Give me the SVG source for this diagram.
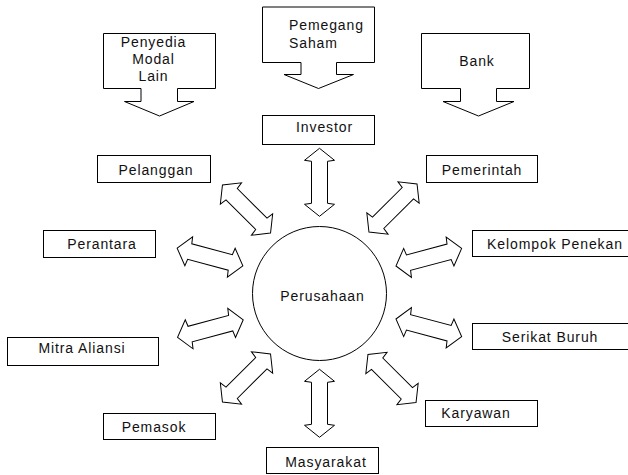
<svg xmlns="http://www.w3.org/2000/svg" xmlns:xlink="http://www.w3.org/1999/xlink" width="628" height="475" viewBox="0 0 628 475">
  <style>
    .shape { fill: #fff; stroke: #000; stroke-width: 1; stroke-linejoin: miter; }
    .lbl { font-family: "Liberation Sans", Arial, sans-serif; font-size: 14px; fill: #111; letter-spacing: 0.9px; }
    .mid { text-anchor: middle; }
  </style>
  <defs>
    <!-- double-headed hollow arrow, 68 px long, centred on the origin, pointing along x -->
    <path id="dbl" d="M34,0 L22,15 L21,8 L-21,8 L-22,15 L-34,0 L-22,-15 L-21,-8 L21,-8 L22,-15 Z"/>
  </defs>

  <rect width="628" height="475" fill="#fff"/>

  <!-- capital sources feeding the investor -->
  <g id="penyedia-modal-lain">
    <path class="shape" d="M103.5,33.5 H215.5 V88.5 H177.5 V101.5 H194 L159.5,116 L124.5,101.5 H141 V88.5 H103.5 Z"/>
    <text class="lbl mid" x="153.5" y="47">Penyedia</text>
    <text class="lbl mid" x="153.5" y="64">Modal</text>
    <text class="lbl mid" x="153.5" y="81">Lain</text>
  </g>
  <g id="pemegang-saham">
    <path class="shape" d="M262.5,7 H374.5 V62.5 H336.5 V74.5 H353.5 L318.5,88.5 L284,74.5 H301 V62.5 H262.5 Z"/>
    <text class="lbl" x="289" y="30">Pemegang</text>
    <text class="lbl" x="289" y="48">Saham</text>
  </g>
  <g id="bank">
    <path class="shape" d="M421.5,33.5 H529.5 V88.5 H496.5 V101.5 H514 L478.5,116 L443,101.5 H460.5 V88.5 H421.5 Z"/>
    <text class="lbl mid" x="477" y="66">Bank</text>
  </g>

  <!-- stakeholders around the company -->
  <g id="investor">
    <rect class="shape" x="262.5" y="115.5" width="112" height="29"/>
    <text class="lbl mid" x="324.5" y="132">Investor</text>
  </g>
  <g id="pelanggan">
    <rect class="shape" x="97.5" y="155.5" width="113" height="27"/>
    <text class="lbl mid" x="156" y="175">Pelanggan</text>
  </g>
  <g id="pemerintah">
    <rect class="shape" x="426.5" y="155.5" width="111" height="27"/>
    <text class="lbl mid" x="482" y="175">Pemerintah</text>
  </g>
  <g id="perantara">
    <rect class="shape" x="43.5" y="230.5" width="112" height="27"/>
    <text class="lbl mid" x="102" y="249">Perantara</text>
  </g>
  <g id="kelompok-penekan">
    <rect class="shape" x="472.5" y="230.5" width="170" height="26"/>
    <text class="lbl mid" x="555" y="249">Kelompok Penekan</text>
  </g>
  <g id="mitra-aliansi">
    <rect class="shape" x="7.5" y="337.5" width="151" height="28"/>
    <text class="lbl mid" x="82" y="353">Mitra Aliansi</text>
  </g>
  <g id="serikat-buruh">
    <rect class="shape" x="472.5" y="323.5" width="170" height="26"/>
    <text class="lbl mid" x="550" y="341.5">Serikat Buruh</text>
  </g>
  <g id="pemasok">
    <rect class="shape" x="103.5" y="413.5" width="112" height="26"/>
    <text class="lbl mid" x="154" y="431.5">Pemasok</text>
  </g>
  <g id="karyawan">
    <rect class="shape" x="425.5" y="400.5" width="112" height="26"/>
    <text class="lbl mid" x="476" y="418">Karyawan</text>
  </g>
  <g id="masyarakat">
    <rect class="shape" x="266.5" y="447.5" width="112" height="26"/>
    <text class="lbl mid" x="326" y="467">Masyarakat</text>
  </g>

  <!-- the company at the centre -->
  <g id="perusahaan">
    <circle class="shape" cx="319.5" cy="293.5" r="67"/>
    <text class="lbl mid" x="322.5" y="300.5">Perusahaan</text>
  </g>

  <!-- two-way relationships -->
  <g id="connectors" class="shape">
    <use xlink:href="#dbl" transform="translate(319.5,182.3) rotate(90)"/>
    <use xlink:href="#dbl" transform="translate(319.5,403.3) rotate(90)"/>
    <use xlink:href="#dbl" transform="translate(246.5,209) rotate(45)"/>
    <use xlink:href="#dbl" transform="translate(393,208) rotate(-45)"/>
    <use xlink:href="#dbl" transform="translate(210,257) rotate(15)"/>
    <use xlink:href="#dbl" transform="translate(210.4,328.6) rotate(-15)"/>
    <use xlink:href="#dbl" transform="translate(428.8,257.2) rotate(-15)"/>
    <use xlink:href="#dbl" transform="translate(428.8,327.8) rotate(15)"/>
    <use xlink:href="#dbl" transform="translate(246.5,378) rotate(-45)"/>
    <use xlink:href="#dbl" transform="translate(392,378.5) rotate(45)"/>
  </g>
</svg>
